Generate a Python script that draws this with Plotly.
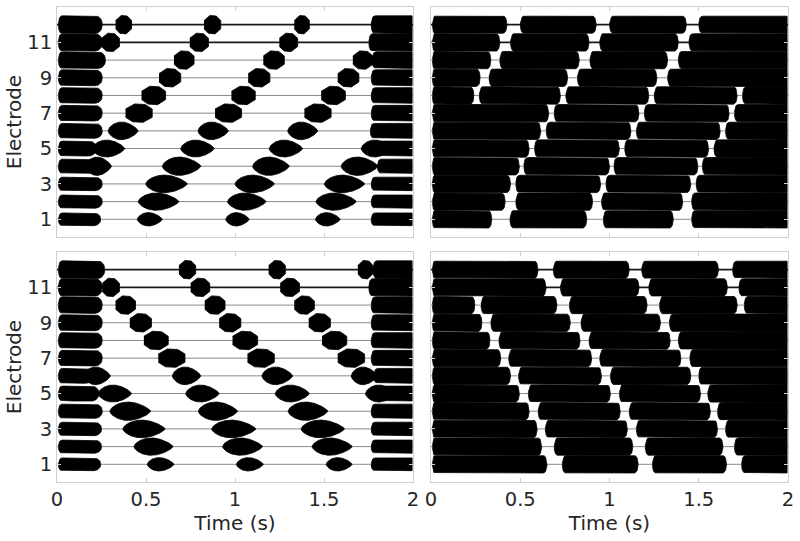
import numpy as np
import plotly.graph_objects as go

# ---------------- data (seconds / electrode numbers) ----------------
electrodes = [1, 2, 3, 4, 5, 6, 7, 8, 9, 10, 11, 12]
x_ticks = [0, 0.5, 1, 1.5, 2]
x_tick_text = ["0", "0.5", "1", "1.5", "2"]
y_ticks = [1, 3, 5, 7, 9, 11]

# baseline activity amplitude (left panels) and burst amplitude, per electrode 1..12
bg_amp = [0.36, 0.37, 0.38, 0.40, 0.42, 0.42, 0.44, 0.44, 0.45, 0.47, 0.49, 0.50]
burst_amp = [0.38, 0.49, 0.50, 0.52, 0.48, 0.50, 0.52, 0.52, 0.52, 0.52, 0.52, 0.52]
right_amp = [0.49, 0.49, 0.49, 0.49, 0.49, 0.49, 0.49, 0.49, 0.49, 0.49, 0.49, 0.48]

# Panel A (top-left): initial block end / final block start per electrode 1..12
a_bg_end = [0.245, 0.254, 0.254, 0.254, 0.22, 0.254, 0.254, 0.254, 0.254, 0.272, 0.254, 0.254]
a_bg_start = [1.765, 1.765, 1.765, 1.80, 1.765, 1.76, 1.765, 1.765, 1.765, 1.77, 1.752, 1.765]
a_elec = [12, 12, 12, 11, 11, 11, 10, 10, 10, 9, 9, 9, 8, 8, 8, 7, 7, 7,
          6, 6, 6, 5, 5, 5, 5, 4, 4, 4, 4, 3, 3, 3, 2, 2, 2, 1, 1, 1]
a_on = [0.329, 0.826, 1.333, 0.250, 0.746, 1.249, 0.657, 1.159, 1.662,
        0.573, 1.074, 1.577, 0.475, 0.980, 1.484, 0.385, 0.888, 1.390,
        0.287, 0.792, 1.296, 0.197, 0.695, 1.192, 1.709, 0.160, 0.592, 1.099, 1.596,
        0.498, 1.000, 1.502, 0.456, 0.958, 1.455, 0.451, 0.948, 1.452]
a_off = [0.419, 0.920, 1.418, 0.351, 0.851, 1.352, 0.770, 1.277, 1.775,
         0.695, 1.196, 1.696, 0.610, 1.114, 1.620, 0.535, 1.037, 1.540,
         0.456, 0.963, 1.465, 0.381, 0.883, 1.380, 1.878, 0.306, 0.808, 1.305, 1.803,
         0.732, 1.221, 1.728, 0.685, 1.174, 1.681, 0.592, 1.080, 1.591]

# Panel C (bottom-left)
c_bg_end = [0.245, 0.25, 0.25, 0.254, 0.235, 0.20, 0.254, 0.254, 0.254, 0.254, 0.254, 0.268]
c_bg_start = [1.765, 1.765, 1.765, 1.765, 1.765, 1.78, 1.765, 1.765, 1.765, 1.765, 1.752, 1.775]
c_elec = [12, 12, 12, 11, 11, 11, 10, 10, 10, 9, 9, 9, 8, 8, 8, 7, 7, 7,
          6, 6, 6, 6, 5, 5, 5, 5, 4, 4, 4, 3, 3, 3, 2, 2, 2, 1, 1, 1]
c_on = [0.685, 1.189, 1.690, 0.254, 0.751, 1.254, 0.329, 0.830, 1.333,
        0.409, 0.911, 1.414, 0.488, 0.986, 1.489, 0.569, 1.070, 1.577,
        0.150, 0.648, 1.151, 1.653, 0.231, 0.723, 1.226, 1.733,
        0.297, 0.794, 1.298, 0.370, 0.869, 1.371, 0.432, 0.930, 1.433,
        0.507, 1.008, 1.512]
c_off = [0.779, 1.283, 1.775, 0.351, 0.858, 1.362, 0.441, 0.944, 1.446,
         0.531, 1.033, 1.536, 0.625, 1.127, 1.628, 0.719, 1.221, 1.728,
         0.300, 0.808, 1.324, 1.800, 0.419, 0.911, 1.418, 1.900,
         0.526, 1.014, 1.521, 0.607, 1.117, 1.615, 0.652, 1.155, 1.658,
         0.657, 1.159, 1.658]

# Panel B (top-right): quiet gaps (start, end) per electrode
b_elec = [12, 12, 12, 11, 11, 11, 10, 10, 10, 9, 9, 9, 8, 8, 8, 8, 7, 7, 7,
          6, 6, 6, 5, 5, 5, 4, 4, 4, 3, 3, 3, 2, 2, 2, 1, 1, 1]
b_gap_on = [0.425, 0.925, 1.430, 0.385, 0.885, 1.385, 0.335, 0.830, 1.325,
            0.275, 0.765, 1.265, 0.240, 0.725, 1.220, 1.715, 0.660, 1.165, 1.670,
            0.615, 1.120, 1.620, 0.550, 1.055, 1.555, 0.495, 1.000, 1.495,
            0.445, 0.950, 1.455, 0.415, 0.905, 1.410, 0.340, 0.872, 1.357]
b_gap_off = [0.500, 1.000, 1.500, 0.445, 0.945, 1.445, 0.385, 0.890, 1.385,
             0.325, 0.820, 1.325, 0.270, 0.755, 1.250, 1.745, 0.690, 1.195, 1.700,
             0.645, 1.150, 1.650, 0.580, 1.085, 1.585, 0.520, 1.025, 1.520,
             0.475, 0.980, 1.485, 0.475, 0.955, 1.460, 0.442, 0.965, 1.460]

# Panel D (bottom-right)
d_elec = [12, 12, 12, 11, 11, 11, 10, 10, 10, 10, 9, 9, 9, 8, 8, 8, 7, 7, 7,
          6, 6, 6, 5, 5, 5, 4, 4, 4, 3, 3, 3, 2, 2, 2, 1, 1, 1]
d_gap_on = [0.600, 1.110, 1.610, 0.645, 1.165, 1.660, 0.245, 0.705, 1.210, 1.715,
            0.285, 0.780, 1.285, 0.330, 0.835, 1.340, 0.390, 0.900, 1.400,
            0.445, 0.955, 1.455, 0.495, 1.005, 1.510, 0.550, 1.060, 1.565,
            0.595, 1.100, 1.605, 0.620, 1.130, 1.635, 0.650, 1.160, 1.655]
d_gap_off = [0.685, 1.180, 1.690, 0.725, 1.220, 1.725, 0.280, 0.775, 1.280, 1.755,
             0.335, 0.840, 1.335, 0.380, 0.885, 1.385, 0.435, 0.945, 1.450,
             0.490, 1.005, 1.500, 0.545, 1.055, 1.550, 0.600, 1.110, 1.605,
             0.640, 1.150, 1.650, 0.690, 1.200, 1.700, 0.735, 1.240, 1.740]

T_START, T_END = 0.008, 1.995


# ---------------- envelope helpers ----------------
def envelope(t0, t1, amp, kind, taper_l=0.03, taper_r=0.03, n=80):
    t = np.linspace(t0, t1, n)
    u = (t - t0) / (t1 - t0)
    if kind == "hex":
        h = amp * np.minimum(1.0, np.minimum(0.45 + 0.55 * u / 0.3, 0.45 + 0.55 * (1 - u) / 0.3))
    elif kind == "lens":
        h = amp * np.sin(np.pi * np.clip(u, 0, 1) ** 0.85) ** 0.7
    else:  # capsule with rounded ends
        tl = min(taper_l, (t1 - t0) / 2) if taper_l > 0 else 0
        tr = min(taper_r, (t1 - t0) / 2) if taper_r > 0 else 0
        h = np.full_like(t, amp)
        if tl > 0:
            m = (t - t0) < tl
            x = (t[m] - t0) / tl
            h[m] = amp * (np.sqrt(np.clip(1 - (1 - x) ** 2, 0, 1)) * 0.9 + 0.1)
        if tr > 0:
            m = (t1 - t) < tr
            x = (t1 - t[m]) / tr
            h[m] = amp * (np.sqrt(np.clip(1 - (1 - x) ** 2, 0, 1)) * 0.9 + 0.1)
    return t, h


def add_poly(xs, ys, t, h, e):
    xs.extend(list(t) + list(t[::-1]) + [None])
    ys.extend(list(e + h) + list((e - h)[::-1]) + [None])


def left_panel(bg_end, bg_start, elec, on, off):
    xs, ys = [], []
    for i, e in enumerate(electrodes):
        t, h = envelope(T_START, bg_end[i], bg_amp[i], "cap", 0.02, 0.04)
        add_poly(xs, ys, t, h, e)
        t, h = envelope(bg_start[i], T_END, bg_amp[i], "cap", 0.02, 0.0)
        add_poly(xs, ys, t, h, e)
    for e, a, b in zip(elec, on, off):
        kind = "lens" if e <= 6 else "hex"
        t, h = envelope(a, b, burst_amp[e - 1], kind)
        add_poly(xs, ys, t, h, e)
    return xs, ys


def right_panel(elec, gon, goff):
    xs, ys = [], []
    for i, e in enumerate(electrodes):
        gaps = sorted([(a, b) for ee, a, b in zip(elec, gon, goff) if ee == e])
        starts = [T_START] + [b for a, b in gaps]
        ends = [a for a, b in gaps] + [T_END]
        for k, (s0, s1) in enumerate(zip(starts, ends)):
            tl = 0.012 if k == 0 else 0.02
            tr = 0.0 if k == len(ends) - 1 else 0.02
            t, h = envelope(s0, s1, right_amp[i], "cap", tl, tr)
            add_poly(xs, ys, t, h, e)
    return xs, ys


panels = [
    ("x", "y", left_panel(a_bg_end, a_bg_start, a_elec, a_on, a_off)),
    ("x2", "y2", right_panel(b_elec, b_gap_on, b_gap_off)),
    ("x3", "y3", left_panel(c_bg_end, c_bg_start, c_elec, c_on, c_off)),
    ("x4", "y4", right_panel(d_elec, d_gap_on, d_gap_off)),
]

fig = go.Figure()
for xa, ya, (xs, ys) in panels:
    # thin baseline (low-amplitude activity)
    for group, width, col in [(electrodes[:10], 1.0, "#8a8a8a"), (electrodes[10:], 1.8, "#1a1a1a")]:
        bx, by = [], []
        for e in group:
            bx.extend([0.0, 2.0, None])
            by.extend([e, e, None])
        fig.add_trace(go.Scatter(x=bx, y=by, xaxis=xa, yaxis=ya, mode="lines",
                                 line=dict(color=col, width=width), hoverinfo="skip",
                                 showlegend=False))
    fig.add_trace(go.Scatter(x=xs, y=ys, xaxis=xa, yaxis=ya, mode="lines", fill="toself",
                             fillcolor="black", line=dict(color="black", width=0.8),
                             hoverinfo="skip", showlegend=False))

FONT = "DejaVu Sans"
frame = "#cfcfcf"
common_x = dict(range=[0, 2], tickvals=x_ticks, ticktext=x_tick_text, ticks="inside", ticklen=4,
                tickcolor=frame, showline=True, linecolor=frame, linewidth=1, mirror="ticks",
                showgrid=False, zeroline=False, automargin=False,
                tickfont=dict(family=FONT, size=19.5, color="#262626"))
common_y = dict(range=[0, 13], tickvals=y_ticks, ticks="inside", ticklen=4,
                tickcolor=frame, showline=True, linecolor=frame, linewidth=1, mirror="ticks",
                showgrid=False, zeroline=False, automargin=False,
                tickfont=dict(family=FONT, size=19.5, color="#262626"))

W, H = 800, 541
xl = [57 / W, 413 / W]
xr = [431 / W, 788 / W]
yt = [1 - 237 / H, 1 - 7 / H]
yb = [1 - 482 / H, 1 - 252 / H]

title_font = dict(family=FONT, size=20, color="#262626")
fig.update_layout(
    width=W, height=H, margin=dict(l=0, r=0, t=0, b=0, pad=0, autoexpand=False),
    paper_bgcolor="white", plot_bgcolor="white",
    xaxis=dict(domain=xl, anchor="y", showticklabels=False, **common_x),
    yaxis=dict(domain=yt, anchor="x", title=dict(text="Electrode", font=title_font, standoff=0), **common_y),
    xaxis2=dict(domain=xr, anchor="y2", showticklabels=False, **common_x),
    yaxis2=dict(domain=yt, anchor="x2", showticklabels=False, **common_y),
    xaxis3=dict(domain=xl, anchor="y3", title=dict(text="Time (s)", font=title_font, standoff=5), **common_x),
    yaxis3=dict(domain=yb, anchor="x3", title=dict(text="Electrode", font=title_font, standoff=0), **common_y),
    xaxis4=dict(domain=xr, anchor="y4", title=dict(text="Time (s)", font=title_font, standoff=5), **common_x),
    yaxis4=dict(domain=yb, anchor="x4", showticklabels=False, **common_y),
)

fig.write_html("out.html", config={"displayModeBar": False},
               post_script="document.body.style.margin='0';document.body.style.padding='0';")
